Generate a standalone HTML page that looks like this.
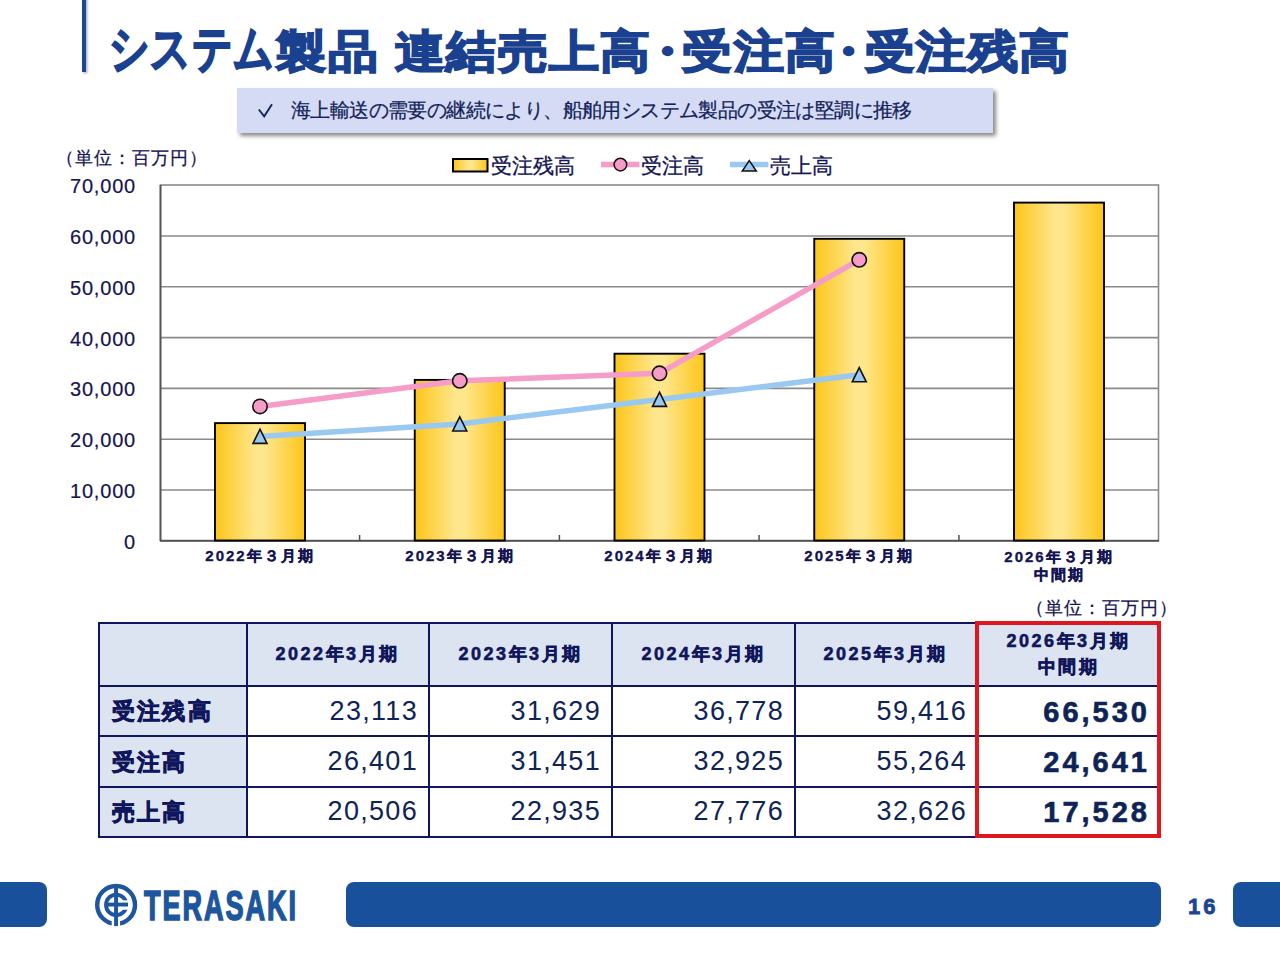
<!DOCTYPE html>
<html lang="ja">
<head>
<meta charset="utf-8">
<style>
html,body{margin:0;padding:0;width:1280px;height:960px;overflow:hidden;background:#fff;font-family:"Liberation Sans",sans-serif;}
.a{position:absolute;white-space:nowrap;line-height:1;}
.ttl{color:#1a4190;font-weight:bold;font-size:50px;-webkit-text-stroke:1.9px #1a4190;top:29px;transform-origin:0 0;transform:scaleY(0.9);}
.yl{color:#141452;font-size:20px;letter-spacing:0.8px;text-align:right;width:80px;left:56px;-webkit-text-stroke:0.2px #141452;}
.xl{color:#141452;font-size:15px;font-weight:bold;letter-spacing:2px;text-align:center;width:160px;-webkit-text-stroke:0.35px #141452;}
.hl{position:absolute;background:#10165c;height:2px;left:98px;width:1063px;}
.vl{position:absolute;background:#10165c;width:2px;top:622px;height:215px;}
.th{color:#10165c;font-size:18px;font-weight:bold;letter-spacing:2.5px;text-align:center;width:183px;-webkit-text-stroke:0.6px #10165c;}
.rh{color:#10165c;font-size:23px;font-weight:bold;letter-spacing:2.2px;left:112px;-webkit-text-stroke:0.8px #10165c;}
.num{color:#0e2456;font-size:27px;letter-spacing:1.3px;text-align:right;width:160px;}
.bn{color:#0e2456;font-size:29px;font-weight:bold;letter-spacing:3px;text-align:right;width:160px;-webkit-text-stroke:0.6px #0e2456;}
</style>
</head>
<body>
<!-- left accent bar -->
<div class="a" style="left:82px;top:-5px;width:4px;height:77px;background:#1c4594;box-shadow:1.5px 1.5px 2.5px rgba(0,0,0,0.3);"></div>

<!-- title -->
<div class="a ttl" style="left:109px;top:23px;transform:scale(0.8,1.02);letter-spacing:0.8px;">システム</div>
<div class="a ttl" style="left:276px;letter-spacing:1.5px;">製品</div>
<div class="a ttl" style="left:395px;letter-spacing:1.3px;">連結売上高</div>
<div class="a ttl" style="left:642px;">・</div>
<div class="a ttl" style="left:682px;letter-spacing:1.5px;">受注高</div>
<div class="a ttl" style="left:823px;">・</div>
<div class="a ttl" style="left:865px;letter-spacing:1.3px;">受注残高</div>

<!-- banner -->
<div class="a" style="left:237px;top:88px;width:756px;height:45px;background:#d6dbf5;box-shadow:3px 3px 4px rgba(0,0,0,0.45);"></div>
<svg class="a" style="left:250px;top:95px" width="30" height="30" viewBox="250 95 30 30"><polyline points="258.8,109.5 264.2,116.3 272,104.2" fill="none" stroke="#14245a" stroke-width="1.9"/></svg>
<div class="a" style="left:291px;top:100px;font-size:20px;letter-spacing:-0.6px;color:#14245a;-webkit-text-stroke:0.25px #14245a;">海上輸送の需要の継続により、船舶用システム製品の受注は堅調に推移</div>

<!-- chart -->
<div class="a" style="left:56px;top:149px;font-size:18px;letter-spacing:1px;color:#141452;-webkit-text-stroke:0.25px #141452;">（単位：百万円）</div>

<svg class="a" style="left:0;top:0" width="1280" height="600" viewBox="0 0 1280 600">
  <defs>
    <linearGradient id="bg" x1="0" x2="1" y1="0" y2="0">
      <stop offset="0" stop-color="#fcc519"/>
      <stop offset="0.45" stop-color="#fee68c"/>
      <stop offset="0.55" stop-color="#fee68c"/>
      <stop offset="1" stop-color="#fcc519"/>
    </linearGradient>
  </defs>
  <!-- plot border/grid -->
  <rect x="160.5" y="185" width="998" height="355.5" fill="#fff" stroke="#8a8a8a" stroke-width="1.6"/>
  <g stroke="#8a8a8a" stroke-width="1.6">
    <line x1="160" x2="1158.5" y1="236" y2="236"/>
    <line x1="160" x2="1158.5" y1="286.8" y2="286.8"/>
    <line x1="160" x2="1158.5" y1="337.6" y2="337.6"/>
    <line x1="160" x2="1158.5" y1="388.4" y2="388.4"/>
    <line x1="160" x2="1158.5" y1="439.2" y2="439.2"/>
    <line x1="160" x2="1158.5" y1="490" y2="490"/>
  </g>
  <line x1="160.5" x2="160.5" y1="185" y2="541" stroke="#555" stroke-width="1.8"/>
  <line x1="160" x2="1159" y1="540.8" y2="540.8" stroke="#505050" stroke-width="1.8"/>
  <g stroke="#505050" stroke-width="1.5">
    <line x1="359.6" x2="359.6" y1="535" y2="541"/>
    <line x1="559.4" x2="559.4" y1="535" y2="541"/>
    <line x1="759.1" x2="759.1" y1="535" y2="541"/>
    <line x1="958.9" x2="958.9" y1="535" y2="541"/>
  </g>
  <!-- bars -->
  <g fill="url(#bg)" stroke="#000" stroke-width="1.9">
    <rect x="215" y="423.1" width="90" height="117.4"/>
    <rect x="414.75" y="379.9" width="90" height="160.6"/>
    <rect x="614.5" y="353.7" width="90" height="186.8"/>
    <rect x="814.25" y="238.8" width="90" height="301.7"/>
    <rect x="1014" y="202.6" width="90" height="337.9"/>
  </g>
  <!-- lines -->
  <polyline points="260,406.4 459.75,380.8 659.5,373.3 859.25,259.8" fill="none" stroke="#f59cc9" stroke-width="5.5" stroke-linejoin="round"/>
  <polyline points="260,436.4 459.75,424.0 659.5,399.4 859.25,374.8" fill="none" stroke="#99c8f0" stroke-width="5.5" stroke-linejoin="round"/>
  <g fill="#f59cc9" stroke="#111" stroke-width="1.6">
    <circle cx="260" cy="406.4" r="7.2"/>
    <circle cx="459.75" cy="380.8" r="7.2"/>
    <circle cx="659.5" cy="373.3" r="7.2"/>
    <circle cx="859.25" cy="259.8" r="7.2"/>
  </g>
  <g fill="#99c8f0" stroke="#111" stroke-width="1.6" stroke-linejoin="miter">
    <path d="M260,429.2 L267,443.4 L253,443.4 Z"/>
    <path d="M459.75,416.8 L466.75,431 L452.75,431 Z"/>
    <path d="M659.5,392.2 L666.5,406.4 L652.5,406.4 Z"/>
    <path d="M859.25,367.6 L866.25,381.8 L852.25,381.8 Z"/>
  </g>
  <!-- legend -->
  <rect x="453" y="159" width="34.5" height="12.5" fill="url(#bg)" stroke="#000" stroke-width="2"/>
  <line x1="601" x2="639.5" y1="164.6" y2="164.6" stroke="#f59cc9" stroke-width="5.5"/>
  <circle cx="620.4" cy="164.6" r="6.3" fill="#f59cc9" stroke="#111" stroke-width="1.5"/>
  <line x1="730" x2="768.4" y1="164.6" y2="164.6" stroke="#99c8f0" stroke-width="5.5"/>
  <path d="M749.3,160.7 L756.3,171 L742.3,171 Z" fill="#99c8f0" stroke="#111" stroke-width="1.5"/>
</svg>

<div class="a" style="left:491px;top:155px;font-size:21px;color:#141452;-webkit-text-stroke:0.3px #141452;">受注残高</div>
<div class="a" style="left:641px;top:155px;font-size:21px;color:#141452;-webkit-text-stroke:0.3px #141452;">受注高</div>
<div class="a" style="left:770px;top:155px;font-size:21px;color:#141452;-webkit-text-stroke:0.3px #141452;">売上高</div>

<!-- y labels -->
<div class="a yl" style="top:176px;">70,000</div>
<div class="a yl" style="top:227px;">60,000</div>
<div class="a yl" style="top:278px;">50,000</div>
<div class="a yl" style="top:329px;">40,000</div>
<div class="a yl" style="top:379px;">30,000</div>
<div class="a yl" style="top:430px;">20,000</div>
<div class="a yl" style="top:481px;">10,000</div>
<div class="a yl" style="top:532px;">0</div>

<!-- x labels -->
<div class="a xl" style="left:180px;top:548px;">2022年３月期</div>
<div class="a xl" style="left:380px;top:548px;">2023年３月期</div>
<div class="a xl" style="left:579px;top:548px;">2024年３月期</div>
<div class="a xl" style="left:779px;top:548px;">2025年３月期</div>
<div class="a xl" style="left:979px;top:548px;line-height:18px;">2026年３月期<br>中間期</div>

<!-- table -->
<div class="a" style="left:1026px;top:599px;font-size:18px;letter-spacing:1px;color:#141452;-webkit-text-stroke:0.25px #141452;">（単位：百万円）</div>
<div class="a" style="left:99px;top:623px;width:1061px;height:63px;background:#dce4f1"></div>
<div class="a" style="left:99px;top:685px;width:148px;height:151px;background:#dce4f1"></div>

<div class="hl" style="top:622px"></div>
<div class="hl" style="top:684.5px"></div>
<div class="hl" style="top:735px"></div>
<div class="hl" style="top:785.5px"></div>
<div class="hl" style="top:835.5px"></div>
<div class="vl" style="left:98px"></div>
<div class="vl" style="left:245.5px"></div>
<div class="vl" style="left:428px"></div>
<div class="vl" style="left:611px"></div>
<div class="vl" style="left:793.5px"></div>
<div class="vl" style="left:976px"></div>
<div class="vl" style="left:1159px"></div>
<div class="a" style="left:975px;top:621px;width:178px;height:209px;border:4px solid #e0161e;"></div>

<div class="a th" style="left:246px;top:645px;">2022年3月期</div>
<div class="a th" style="left:429px;top:645px;">2023年3月期</div>
<div class="a th" style="left:612px;top:645px;">2024年3月期</div>
<div class="a th" style="left:794px;top:645px;">2025年3月期</div>
<div class="a th" style="left:977px;top:629px;line-height:25.5px;">2026年3月期<br>中間期</div>

<div class="a rh" style="top:700px;">受注残高</div>
<div class="a rh" style="top:751px;">受注高</div>
<div class="a rh" style="top:801px;">売上高</div>

<div class="a num" style="left:258px;top:698px;">23,113</div>
<div class="a num" style="left:441px;top:698px;">31,629</div>
<div class="a num" style="left:624px;top:698px;">36,778</div>
<div class="a num" style="left:807px;top:698px;">59,416</div>
<div class="a bn" style="left:990px;top:698px;">66,530</div>

<div class="a num" style="left:258px;top:748px;">26,401</div>
<div class="a num" style="left:441px;top:748px;">31,451</div>
<div class="a num" style="left:624px;top:748px;">32,925</div>
<div class="a num" style="left:807px;top:748px;">55,264</div>
<div class="a bn" style="left:990px;top:748px;">24,641</div>

<div class="a num" style="left:258px;top:798px;">20,506</div>
<div class="a num" style="left:441px;top:798px;">22,935</div>
<div class="a num" style="left:624px;top:798px;">27,776</div>
<div class="a num" style="left:807px;top:798px;">32,626</div>
<div class="a bn" style="left:990px;top:798px;">17,528</div>

<!-- footer -->
<div class="a" style="left:-10px;top:882px;width:57px;height:45px;background:#19509c;border-radius:8px;"></div>
<div class="a" style="left:346px;top:882px;width:815px;height:45px;background:#19509c;border-radius:8px;"></div>
<div class="a" style="left:1233px;top:882px;width:60px;height:45px;background:#19509c;border-radius:8px;"></div>
<div class="a" style="left:1188px;top:896px;font-size:22px;font-weight:bold;letter-spacing:3px;color:#1b4592;-webkit-text-stroke:0.8px #1b4592;">16</div>

<svg class="a" style="left:0;top:860px" width="320" height="80" viewBox="0 860 320 80">
  <g fill="none" stroke="#1d559e">
    <circle cx="116.1" cy="904.9" r="18.9" stroke-width="4.4"/>
    <circle cx="116.2" cy="904.9" r="10.2" stroke-width="3.9"/>
  </g>
  <rect x="111.7" y="919.5" width="8.4" height="8" fill="#fff"/>
  <rect x="118" y="900.3" width="12" height="9.5" fill="#fff"/>
  <rect x="107.6" y="902.6" width="20.4" height="3.9" fill="#1d559e"/>
  <rect x="114.1" y="887" width="3.9" height="39.1" fill="#1d559e"/>
</svg>
<div class="a" style="left:144px;top:885px;font-size:42px;font-weight:bold;color:#1d559e;transform-origin:0 0;transform:scaleX(0.645);letter-spacing:3px;-webkit-text-stroke:1.6px #1d559e;">TERASAKI</div>

</body>
</html>
